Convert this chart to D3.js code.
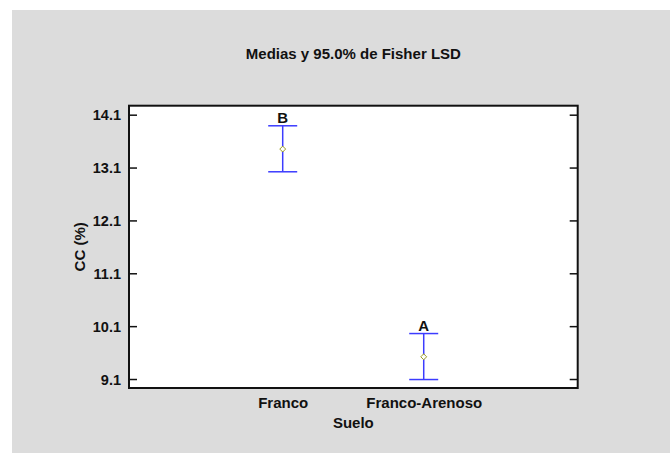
<!DOCTYPE html>
<html>
<head>
<meta charset="utf-8">
<script src="https://cdn.jsdelivr.net/npm/d3@7"></script>
<style>
  html, body { margin: 0; padding: 0; background: #ffffff; }
  svg { display: block; }
  text { font-family: Arial, "Liberation Sans", Helvetica, sans-serif; font-weight: bold; fill: #111; }
</style>
</head>
<body>
<div id="chart"></div>
<script>
// Soil texture groups and their means with 95% Fisher LSD intervals
const categories = ["Franco", "Franco-Arenoso"];
const means = [13.45, 9.52];
const lower = [13.02, 9.09];
const upper = [13.89, 9.96];
const groupLetters = ["B", "A"];
const yTicks = [9.1, 10.1, 11.1, 12.1, 13.1, 14.1];

const width = 670, height = 453;
const plot = { left: 129, right: 577.7, top: 105.7, bottom: 388 };

const svg = d3.select("#chart").append("svg")
  .attr("width", width).attr("height", height);

// grey panel
svg.append("rect")
  .attr("x", 12).attr("y", 10)
  .attr("width", width - 12).attr("height", height - 10)
  .attr("fill", "#dcdcdc");

// plotting area
svg.append("rect")
  .attr("x", plot.left).attr("y", plot.top)
  .attr("width", plot.right - plot.left).attr("height", plot.bottom - plot.top)
  .attr("fill", "#ffffff");

const x = d3.scaleLinear().domain([-1.09, 2.092]).range([plot.left, plot.right]);
const y = d3.scaleLinear().domain([8.93, 14.27]).range([plot.bottom, plot.top]);

// left axis, ticks pointing inward
const yAxisLeft = d3.axisRight(y).tickValues(yTicks).tickFormat(d3.format(".1f")).tickSize(8).tickSizeOuter(0);
const gl = svg.append("g").attr("transform", `translate(${plot.left},0)`).call(yAxisLeft);
gl.select(".domain").remove();
gl.selectAll(".tick line").attr("stroke", "#111").attr("stroke-width", 1.5);
gl.selectAll(".tick text")
  .attr("x", -8).attr("text-anchor", "end")
  .attr("font-size", 14.5).attr("dy", "0.35em").attr("fill", "#111");

// right axis, ticks pointing inward, no labels
const yAxisRight = d3.axisLeft(y).tickValues(yTicks).tickFormat("").tickSize(8).tickSizeOuter(0);
const gr = svg.append("g").attr("transform", `translate(${plot.right},0)`).call(yAxisRight);
gr.select(".domain").remove();
gr.selectAll(".tick line").attr("stroke", "#111").attr("stroke-width", 1.5);

// frame
svg.append("rect")
  .attr("x", plot.left).attr("y", plot.top)
  .attr("width", plot.right - plot.left).attr("height", plot.bottom - plot.top)
  .attr("fill", "none").attr("stroke", "#111").attr("stroke-width", 2);

// category labels
const xAxis = d3.axisBottom(x).tickValues(d3.range(categories.length))
  .tickFormat(i => categories[i]).tickSize(0).tickSizeOuter(0);
const gx = svg.append("g").attr("transform", `translate(0,${plot.bottom})`).call(xAxis);
gx.select(".domain").remove();
gx.selectAll(".tick text").attr("font-size", 15).attr("y", 20).attr("dy", 0).attr("fill", "#111");

// error bars
const blue = "#3c3cff";
const capHalf = 14.5;
const bars = svg.append("g");
categories.forEach((c, i) => {
  const cx = x(i);
  bars.append("line").attr("x1", cx).attr("x2", cx).attr("y1", y(upper[i])).attr("y2", y(lower[i]))
    .attr("stroke", blue).attr("stroke-width", 1.5);
  bars.append("line").attr("x1", cx - capHalf).attr("x2", cx + capHalf).attr("y1", y(upper[i])).attr("y2", y(upper[i]))
    .attr("stroke", blue).attr("stroke-width", 1.5);
  bars.append("line").attr("x1", cx - capHalf).attr("x2", cx + capHalf).attr("y1", y(lower[i])).attr("y2", y(lower[i]))
    .attr("stroke", blue).attr("stroke-width", 1.5);
  // mean marker
  bars.append("path")
    .attr("d", d3.symbol().type(d3.symbolDiamond2).size(22)())
    .attr("transform", `translate(${cx},${y(means[i])})`)
    .attr("fill", "#ffffff").attr("stroke", "#9a9a1e").attr("stroke-width", 1);
  // homogeneous group letter
  bars.append("text").attr("x", cx).attr("y", y(upper[i]) - 3)
    .attr("text-anchor", "middle").attr("font-size", 15).text(groupLetters[i]);
});

// title and axis titles
const midX = (plot.left + plot.right) / 2;
const midY = (plot.top + plot.bottom) / 2;
svg.append("text").attr("x", midX).attr("y", 58.5).attr("text-anchor", "middle")
  .attr("font-size", 15).text("Medias y 95.0% de Fisher LSD");
svg.append("text").attr("x", midX).attr("y", 427.5).attr("text-anchor", "middle")
  .attr("font-size", 15).text("Suelo");
svg.append("text").attr("transform", `translate(85,${midY}) rotate(-90)`)
  .attr("text-anchor", "middle").attr("font-size", 15).text("CC (%)");
</script>
</body>
</html>
